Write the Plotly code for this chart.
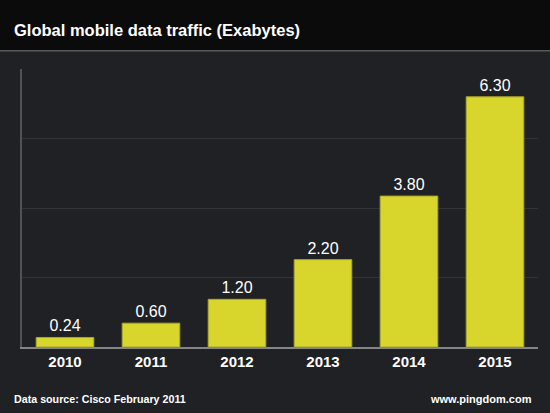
import plotly.graph_objects as go

years = ["2010", "2011", "2012", "2013", "2014", "2015"]
traffic = [0.24, 0.60, 1.20, 2.20, 3.80, 6.30]
labels = ["0.24", "0.60", "1.20", "2.20", "3.80", "6.30"]

font = "Liberation Sans, Arial, sans-serif"

fig = go.Figure(go.Bar(
    x=years, y=traffic, text=labels, textposition="outside",
    textfont=dict(family=font, size=16, color="white"),
    marker=dict(color="#d8d52c", line=dict(color="#a9a62a", width=1)),
    width=0.67, cliponaxis=False,
))

fig.update_layout(
    width=550, height=413,
    margin=dict(l=22, r=12, t=69, b=66),
    paper_bgcolor="#1f2125", plot_bgcolor="rgba(0,0,0,0)",
    showlegend=False,
    font=dict(family=font, color="white"),
    xaxis=dict(tickfont=dict(size=15, weight="bold"),
               showline=True, linecolor="#858585", linewidth=2, ticks="", showgrid=False),
    yaxis=dict(range=[0, 7], dtick=1.75, showticklabels=False, showgrid=True,
               gridcolor="#323438", gridwidth=1, zeroline=False,
               showline=True, linecolor="#505256", linewidth=1.5),
    shapes=[
        dict(type="rect", xref="paper", yref="paper", x0=-0.05, x1=1.05, y0=1.066, y1=1.25,
             fillcolor="#0b0b0c", line=dict(width=0), layer="below"),
        dict(type="line", xref="paper", yref="paper", x0=-0.05, x1=1.05, y0=1.066, y1=1.066,
             line=dict(color="#5a5a5a", width=1.5)),
    ],
    annotations=[
        dict(text="<b>Global mobile data traffic (Exabytes)</b>", xref="paper", yref="paper",
             x=-0.02, y=1.14, xanchor="left", yanchor="middle", showarrow=False,
             font=dict(size=16.5, color="white")),
        dict(text="<b>Data source: Cisco February 2011</b>", xref="paper", yref="paper",
             x=-0.02, y=-0.187, xanchor="left", yanchor="middle", showarrow=False,
             font=dict(size=10.7, color="white")),
        dict(text="<b>www.pingdom.com</b>", xref="paper", yref="paper",
             x=0.993, y=-0.187, xanchor="right", yanchor="middle", showarrow=False,
             font=dict(size=11, color="white")),
    ],
)

fig.write_html("out.html", config={"displayModeBar": False},
               post_script="document.body.style.margin='0';")
